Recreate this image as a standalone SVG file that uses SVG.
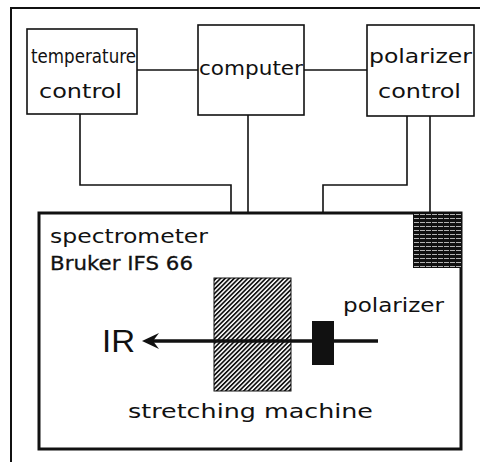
<svg xmlns="http://www.w3.org/2000/svg" width="480" height="462" viewBox="0 0 480 462">
<style>
.box{fill:#fff;stroke:#111;stroke-width:1.6}
.ln{fill:none;stroke:#111;stroke-width:1.6}
.t{font-family:"DejaVu Sans","Liberation Sans",sans-serif;fill:#111;font-size:20px}
</style>
<defs>
<pattern id="hatch" width="3.2" height="3.2" patternUnits="userSpaceOnUse" patternTransform="rotate(45)">
<rect width="3.2" height="3.2" fill="#fff"/>
<rect width="1.7" height="3.2" fill="#111"/>
</pattern>
<pattern id="hlines" width="6" height="4" patternUnits="userSpaceOnUse">
<rect width="6" height="4" fill="#111"/>
<rect y="2.2" width="5" height="0.8" fill="#ddd"/>
</pattern>
</defs>
<rect width="480" height="462" fill="#fff"/>
<g id="frame">
<path d="M11,462 V8 H480" fill="none" stroke="#111" stroke-width="2"/>
</g>
<g id="connectors">
<path class="ln" d="M137,70 H198"/>
<path class="ln" d="M304,70 H367"/>
<path class="ln" d="M80,114 V185 H231 V278"/>
<path class="ln" d="M248,115 V278"/>
<path class="ln" d="M407,116 V185 H323 V321"/>
<path class="ln" d="M430,116 V213"/>
</g>
<g id="spectrometer">
<rect x="39" y="213" width="422" height="236" fill="#fff" stroke="#111" stroke-width="3"/>
<text class="t" x="50" y="243" textLength="158" lengthAdjust="spacingAndGlyphs">spectrometer</text>
<text class="t" x="50" y="270" font-size="13" textLength="143" lengthAdjust="spacingAndGlyphs" stroke="#111" stroke-width="0.3">Bruker  IFS  66</text>
</g>
<g id="polarizer-block">
<rect x="413" y="213" width="48" height="55" fill="url(#hlines)"/>
</g>
<g id="temperature-control">
<rect class="box" x="27" y="29" width="110" height="85"/>
<text class="t" x="31" y="63" font-size="14" textLength="105" lengthAdjust="spacingAndGlyphs">temperature</text>
<text class="t" x="39" y="98" textLength="83" lengthAdjust="spacingAndGlyphs">control</text>
</g>
<g id="computer">
<rect class="box" x="198" y="25" width="106" height="90"/>
<text class="t" x="199" y="75" textLength="104" lengthAdjust="spacingAndGlyphs">computer</text>
</g>
<g id="polarizer-control">
<rect class="box" x="367" y="25" width="107" height="91"/>
<text class="t" x="369" y="63" textLength="103" lengthAdjust="spacingAndGlyphs">polarizer</text>
<text class="t" x="378" y="98" textLength="83" lengthAdjust="spacingAndGlyphs">control</text>
</g>
<g id="stretching-machine">
<rect x="214" y="278" width="77" height="113" fill="url(#hatch)" stroke="#111" stroke-width="1"/>
<text class="t" x="128" y="418" font-size="21" textLength="245" lengthAdjust="spacingAndGlyphs">stretching  machine</text>
</g>
<g id="beam">
<line x1="150" y1="341" x2="378" y2="341" stroke="#111" stroke-width="3.5"/>
<polygon points="142,341 159,333 153,341 159,349" fill="#111"/>
<text x="102" y="352" font-family="Liberation Sans, Arial, sans-serif" font-size="32" fill="#111" textLength="33" lengthAdjust="spacingAndGlyphs">IR</text>
</g>
<g id="polarizer">
<rect x="312" y="321" width="22" height="44" fill="#111"/>
<text class="t" x="343" y="312" textLength="101" lengthAdjust="spacingAndGlyphs">polarizer</text>
</g>
</svg>
